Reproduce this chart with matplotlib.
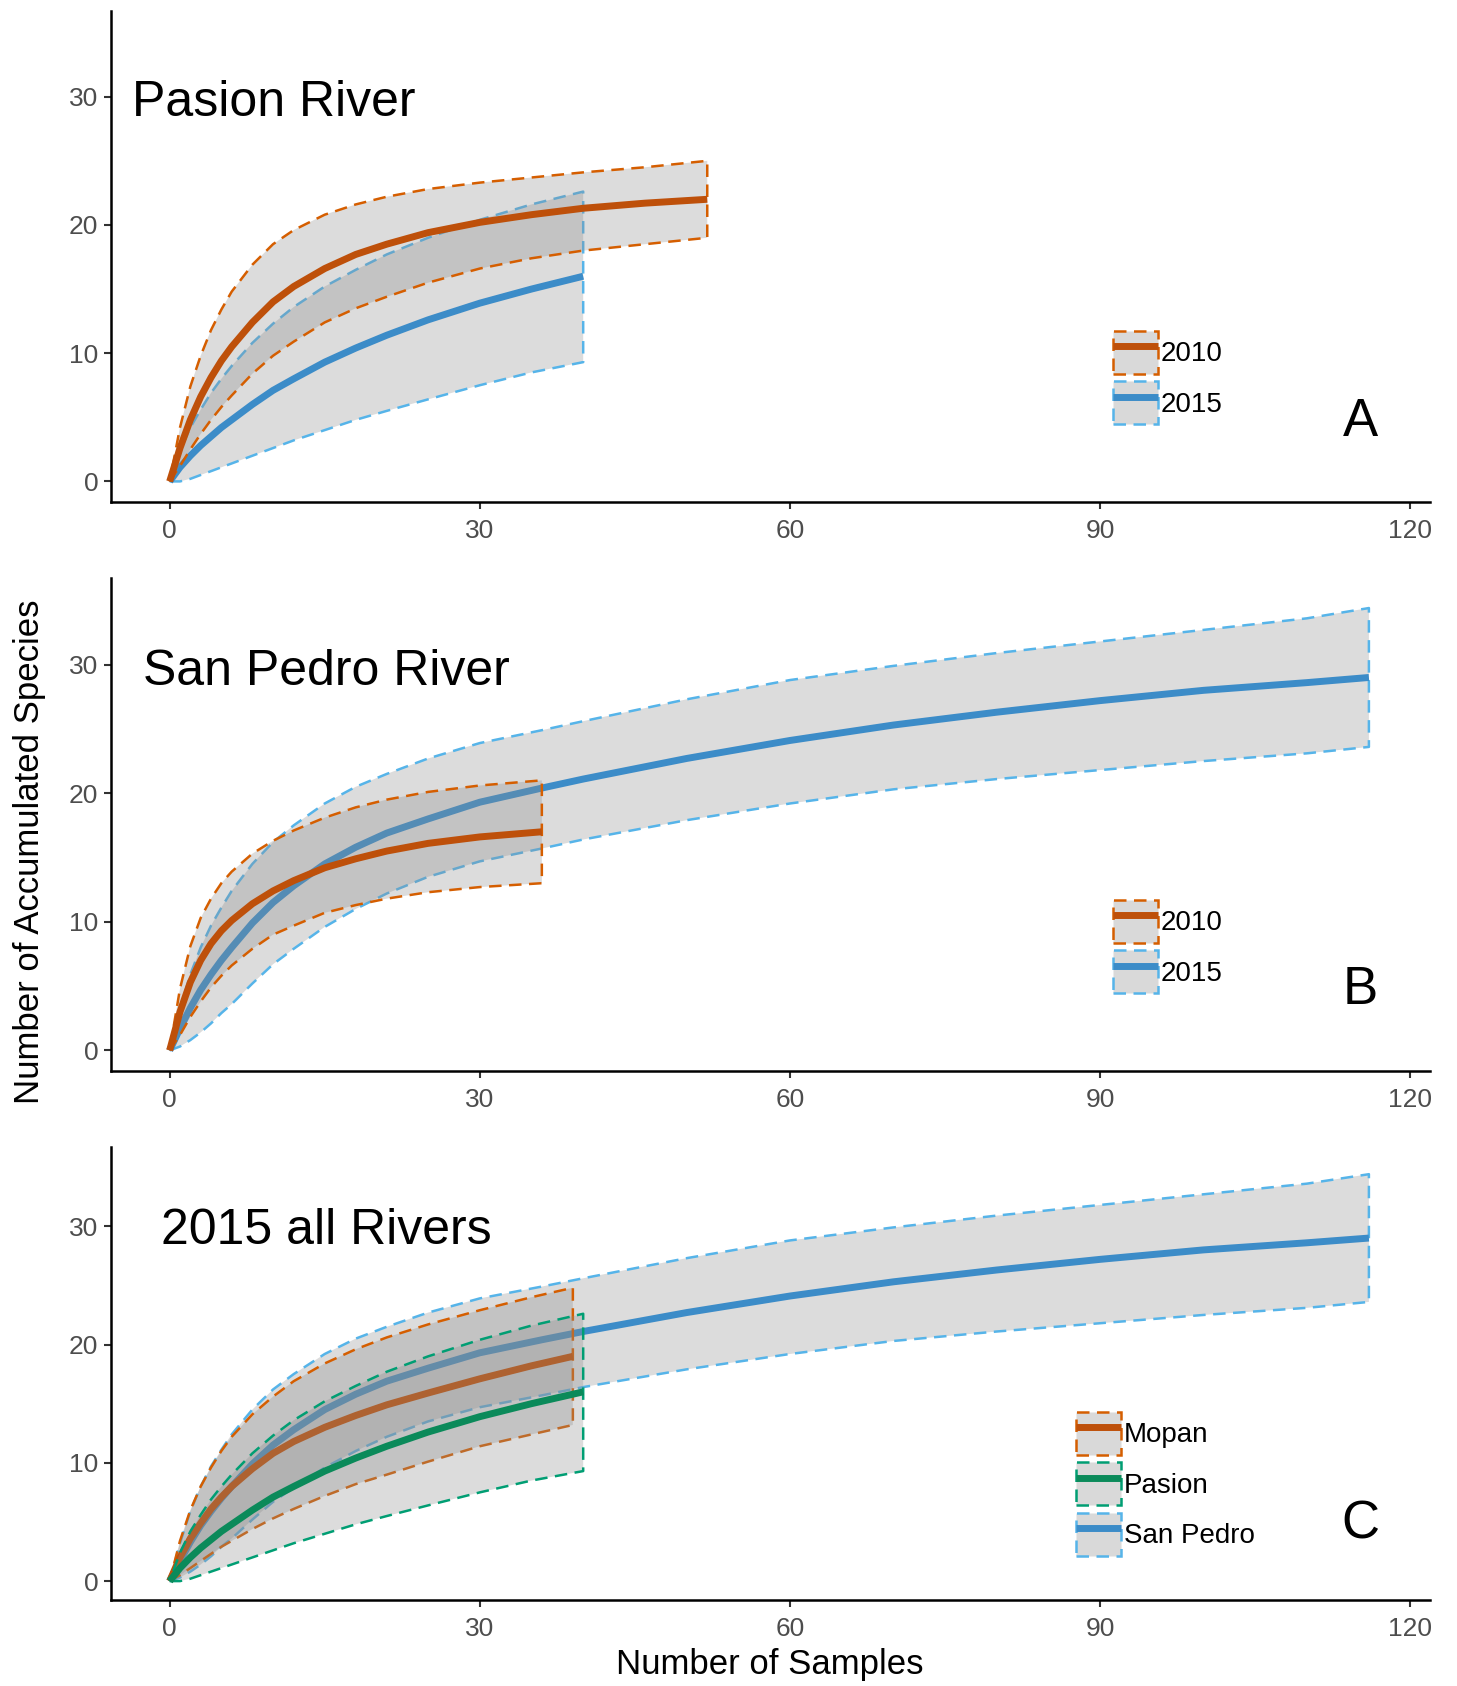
import matplotlib
matplotlib.use("Agg")
import matplotlib.pyplot as plt
from matplotlib.patches import Patch
from matplotlib.lines import Line2D
from matplotlib.legend_handler import HandlerTuple

plt.rcParams["font.family"] = ["Liberation Sans", "DejaVu Sans"]

# ---- data ----
# Pasion River
pas10_x = [0, 1, 2, 3, 4, 5, 6, 8, 10, 12, 15, 18, 21, 25, 30, 35, 40, 46, 52]
pas10_mean = [0, 2.6, 4.8, 6.6, 8.1, 9.4, 10.5, 12.4, 14.0, 15.2, 16.6, 17.7, 18.5, 19.4,
              20.2, 20.8, 21.3, 21.7, 22.0]
pas10_hi = [0, 4.2, 7.4, 9.8, 11.8, 13.4, 14.8, 16.9, 18.5, 19.6, 20.8, 21.6, 22.2, 22.8,
            23.3, 23.7, 24.1, 24.5, 25.0]
pas10_lo = [0, 1.2, 2.5, 3.7, 4.8, 5.8, 6.7, 8.4, 9.8, 10.9, 12.4, 13.5, 14.4, 15.5,
            16.6, 17.4, 18.0, 18.5, 19.0]

pas15_x = [0, 1, 2, 3, 4, 5, 6, 8, 10, 12, 15, 18, 21, 25, 30, 35, 40]
pas15_mean = [0, 1.1, 2.0, 2.8, 3.5, 4.2, 4.8, 6.0, 7.1, 8.0, 9.3, 10.4, 11.4, 12.6, 13.9, 15.0, 16.0]
pas15_hi = [0, 2.4, 4.2, 5.6, 6.9, 8.0, 9.0, 10.8, 12.3, 13.6, 15.2, 16.5, 17.7, 19.0, 20.4, 21.6, 22.6]
pas15_lo = [0, 0, 0.2, 0.5, 0.8, 1.1, 1.4, 2.0, 2.6, 3.2, 4.0, 4.8, 5.5, 6.4, 7.5, 8.5, 9.3]

# San Pedro River
sp10_x = [0, 1, 2, 3, 4, 5, 6, 8, 10, 12, 15, 18, 21, 25, 30, 36]
sp10_mean = [0, 3.0, 5.3, 7.0, 8.3, 9.3, 10.1, 11.4, 12.4, 13.2, 14.2, 14.9, 15.5, 16.1, 16.6, 17.0]
sp10_hi = [0, 4.8, 8.1, 10.3, 11.8, 13.0, 13.9, 15.3, 16.3, 17.1, 18.1, 18.9, 19.5, 20.1, 20.6, 21.0]
sp10_lo = [0, 1.2, 2.6, 3.8, 4.9, 5.8, 6.6, 7.9, 9.0, 9.7, 10.7, 11.3, 11.8, 12.3, 12.7, 13.0]

sp15_x = [0, 1, 2, 3, 4, 5, 6, 8, 10, 12, 15, 18, 21, 25, 30, 36, 40, 50, 60, 70, 80,
          90, 100, 110, 116]
sp15_mean = [0, 1.7, 3.3, 4.7, 5.9, 7.0, 8.0, 9.9, 11.5, 12.8, 14.5, 15.8, 16.9, 18.0,
             19.3, 20.4, 21.1, 22.7, 24.1, 25.3, 26.3, 27.2, 28.0, 28.6, 29.0]
sp15_hi = [0, 3.2, 5.9, 8.0, 9.7, 11.1, 12.4, 14.5, 16.2, 17.5, 19.2, 20.5, 21.5, 22.7,
           23.9, 24.9, 25.6, 27.3, 28.8, 29.9, 30.9, 31.8, 32.7, 33.6, 34.4]
sp15_lo = [0, 0.3, 0.8, 1.4, 2.1, 2.9, 3.6, 5.2, 6.7, 7.9, 9.6, 11.0, 12.2, 13.5,
           14.7, 15.7, 16.4, 17.9, 19.2, 20.3, 21.1, 21.8, 22.5, 23.1, 23.6]

# Mopan 2015
mop_x = [0, 1, 2, 3, 4, 5, 6, 8, 10, 12, 15, 18, 21, 25, 30, 35, 39]
mop_mean = [0, 2.0, 3.6, 4.9, 6.1, 7.1, 8.0, 9.5, 10.8, 11.8, 13.0, 14.0, 14.9, 15.9, 17.1, 18.2, 19.0]
mop_hi = [0, 3.4, 6.0, 8.0, 9.6, 11.0, 12.2, 14.1, 15.6, 16.9, 18.4, 19.6, 20.6, 21.7, 22.9, 24.0, 24.8]
mop_lo = [0, 0.5, 1.1, 1.7, 2.3, 2.9, 3.4, 4.4, 5.3, 6.1, 7.2, 8.2, 9.0, 10.1, 11.4, 12.4, 13.2]

x_ticks = [0, 30, 60, 90, 120]
y_ticks = [0, 10, 20, 30]

ORANGE = ("#be500a", "#d55e00")
BLUE = ("#3c8cc8", "#56b4e9")
GREEN = ("#0b8a5a", "#009e73")
DASH = (0, (5, 3))

# title, letter, groups (drawn in order), legend order, title pos, legend anchor
panels = [
    ("Pasion River", "A",
     [("2015", pas15_x, pas15_mean, pas15_lo, pas15_hi, BLUE),
      ("2010", pas10_x, pas10_mean, pas10_lo, pas10_hi, ORANGE)],
     ["2010", "2015"], (0.016, 0.786), (0.76, 0.348)),
    ("San Pedro River", "B",
     [("2015", sp15_x, sp15_mean, sp15_lo, sp15_hi, BLUE),
      ("2010", sp10_x, sp10_mean, sp10_lo, sp10_hi, ORANGE)],
     ["2010", "2015"], (0.0244, 0.784), (0.76, 0.347)),
    ("2015 all Rivers", "C",
     [("San Pedro", sp15_x, sp15_mean, sp15_lo, sp15_hi, BLUE),
      ("Mopan", mop_x, mop_mean, mop_lo, mop_hi, ORANGE),
      ("Pasion", pas15_x, pas15_mean, pas15_lo, pas15_hi, GREEN)],
     ["Mopan", "Pasion", "San Pedro"], (0.038, 0.786), (0.732, 0.415)),
]

fig = plt.figure(figsize=(14.57, 16.86), dpi=100)
rects = [
    [0.0760, 0.7023, 0.9054, 0.2913],
    [0.0760, 0.3648, 0.9054, 0.2921],
    [0.0760, 0.0510, 0.9054, 0.2687],
]

for rect, (title, letter, groups, order, tpos, lpos) in zip(rects, panels):
    ax = fig.add_axes(rect)
    handles = {}
    z = 2
    for name, x, m, lo, hi, (lc, dc) in groups:
        ax.fill_between(x, lo, hi, facecolor="#8c8c8c", alpha=0.3, linewidth=0, zorder=z)
        ax.fill_between(x, lo, hi, facecolor="none", edgecolor=dc, linewidth=1.8,
                        linestyle=DASH, zorder=z + 1)
        ax.plot(x, m, color=lc, linewidth=5, solid_capstyle="butt",
                solid_joinstyle="round", zorder=z + 2)
        z += 3
        handles[name] = (Patch(facecolor="#d9d9d9", edgecolor=dc, linewidth=1.8,
                               linestyle=DASH),
                         Line2D([], [], color=lc, linewidth=5, solid_capstyle="butt"))

    ax.set_xlim(-5.7, 121.9)
    ax.set_ylim(-1.6, 36.7)
    ax.set_xticks(x_ticks)
    ax.set_yticks(y_ticks)
    for s in ["top", "right"]:
        ax.spines[s].set_visible(False)
    for s in ["left", "bottom"]:
        ax.spines[s].set_linewidth(1.8)
    ax.tick_params(direction="out", length=5, width=1.5, color="#333333",
                   labelsize=19, labelcolor="#4d4d4d")
    ax.tick_params(axis="x", pad=7.5)
    ax.tick_params(axis="y", pad=4)

    ax.text(tpos[0], tpos[1], title, transform=ax.transAxes, fontsize=36,
            ha="left", va="baseline")
    ax.text(0.947, 0.135, letter, transform=ax.transAxes, fontsize=38,
            ha="center", va="baseline")

    ax.legend([handles[k] for k in order], order,
              handler_map={tuple: HandlerTuple(ndivide=1, pad=0)},
              loc="upper left", bbox_to_anchor=lpos, frameon=False,
              fontsize=20, handlelength=1.62, handleheight=2.0,
              labelspacing=0.27, handletextpad=0.1, borderpad=0, borderaxespad=0)

fig.text(0.5285, 0.0125, "Number of Samples", fontsize=25, ha="center", va="center")
fig.text(0.0200, 0.495, "Number of Accumulated Species", fontsize=25, rotation=90,
         ha="center", va="center")

fig.savefig("out.png", dpi=100)
